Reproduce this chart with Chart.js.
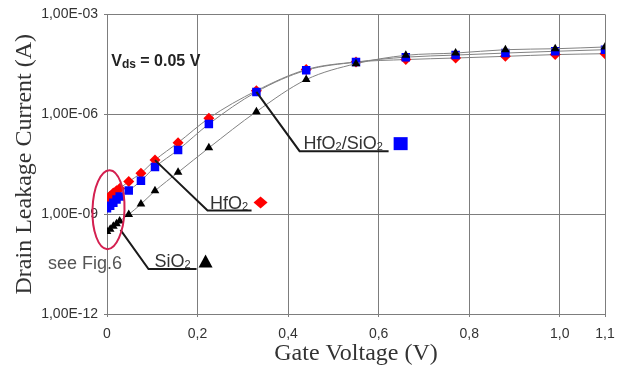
<!DOCTYPE html>
<html>
<head>
<meta charset="utf-8">
<script src="https://cdn.jsdelivr.net/npm/chart.js@4.4.0/dist/chart.umd.min.js"></script>
<style>
  html, body { margin: 0; padding: 0; background: #fff; }
  #wrap { width: 626px; height: 371px; }
</style>
</head>
<body>
<div id="wrap"><canvas id="leakage" width="626" height="371"></canvas></div>
<script>
// gate voltage (V)
var gateVoltage = [0, 0.007, 0.014, 0.021, 0.028, 0.048, 0.075, 0.106, 0.157, 0.225, 0.33, 0.44, 0.55, 0.66, 0.77, 0.88, 0.99, 1.1];

// drain leakage current (A)
var hfo2     = [3.0e-9, 3.5e-9, 4.3e-9, 5.0e-9, 5.9e-9, 9.5e-9, 1.7e-8, 4.2e-8, 1.4e-7, 7.6e-7, 5.1e-6, 2.2e-5, 3.7e-5, 4.4e-5, 4.9e-5, 5.5e-5, 6.2e-5, 6.6e-5];
var hfo2Sio2 = [1.5e-9, 1.8e-9, 2.2e-9, 2.75e-9, 3.4e-9, 5.1e-9, 1.0e-8, 2.6e-8, 8.5e-8, 5.1e-7, 4.7e-6, 2.1e-5, 3.7e-5, 5.2e-5, 6.0e-5, 6.9e-5, 7.8e-5, 8.7e-5];
var sio2     = [3.0e-10, 3.5e-10, 4.3e-10, 5.1e-10, 6.2e-10, 9.8e-10, 2.0e-9, 5.0e-9, 1.8e-8, 9.8e-8, 1.2e-6, 1.1e-5, 3.3e-5, 5.9e-5, 6.9e-5, 8.7e-5, 9.3e-5, 1.05e-4];

var xTicks = [0, 0.2, 0.4, 0.6, 0.8, 1.0, 1.1];
var yTicks = [1e-12, 1e-9, 1e-6, 1e-3];

var gridColor = 'rgb(125,125,125)';
var textColor = '#333';

function points(values) {
    return gateVoltage.map(function (v, i) { return { x: v, y: values[i] }; });
}

function series(label, values, color, style, radius) {
    return {
        label: label,
        data: points(values),
        showLine: true,
        borderColor: 'rgb(130,130,130)',
        borderWidth: 1,
        cubicInterpolationMode: 'monotone',
        pointStyle: style,
        pointRadius: radius,
        pointBackgroundColor: color,
        pointBorderColor: color,
        pointBorderWidth: 0
    };
}

// callouts: leader line from a point, underline, label and a legend marker
var callouts = [
    { parts: [['HfO', 0], ['2', 1], ['/SiO', 0], ['2', 1]],
      from: [gateVoltage[10], hfo2Sio2[10]], elbow: [0.4254, 7.8e-8], end: 0.622,
      text: [0.4343, 9.3e-8], mark: [0.6486, 1.31e-7], shape: 'square' },
    { parts: [['HfO', 0], ['2', 1]],
      from: [gateVoltage[7], hfo2[7]], elbow: [0.2221, 1.29e-9], end: 0.3193,
      text: [0.2276, 1.46e-9], mark: [0.3392, 2.23e-9], shape: 'diamond' },
    { parts: [['SiO', 0], ['2', 1]],
      from: [0.0298, 3.35e-10], elbow: [0.0917, 2.25e-11], end: 0.1978,
      text: [0.105, 2.62e-11], mark: [0.2177, 3.76e-11], shape: 'triangle' }
];

function drawRich(ctx, parts, x, y, size, subSize, weight, color) {
    ctx.fillStyle = color;
    ctx.textAlign = 'left';
    ctx.textBaseline = 'alphabetic';
    parts.forEach(function (p) {
        ctx.font = weight + ' ' + (p[1] ? subSize : size) + 'px "Liberation Sans"';
        ctx.fillText(p[0], x, p[1] ? y + 1.5 : y);
        x += ctx.measureText(p[0]).width;
    });
}

function drawMark(ctx, shape, x, y) {
    ctx.beginPath();
    if (shape === 'square') {
        ctx.fillStyle = '#0000ff';
        ctx.rect(x - 7, y - 6.5, 14, 13);
    } else if (shape === 'diamond') {
        ctx.fillStyle = '#ff0000';
        ctx.moveTo(x, y - 6); ctx.lineTo(x + 7, y); ctx.lineTo(x, y + 6); ctx.lineTo(x - 7, y);
    } else {
        ctx.fillStyle = '#000';
        ctx.moveTo(x, y - 7); ctx.lineTo(x + 7, y + 6); ctx.lineTo(x - 7, y + 6);
    }
    ctx.closePath();
    ctx.fill();
}

var notesPlugin = {
    id: 'notes',
    afterDraw: function (chart) {
        var ctx = chart.ctx;
        var xs = chart.scales.x, ys = chart.scales.y;
        function px(v) { return xs.getPixelForValue(v); }
        function py(v) { return ys.getPixelForValue(v); }
        ctx.save();

        // Vds label
        drawRich(ctx, [['V', 0], ['ds', 1], [' = 0.05 V', 0]], px(0.0093), py(2.8e-5), 16, 12, 'bold', '#222');

        callouts.forEach(function (c) {
            ctx.strokeStyle = '#1a1a1a';
            ctx.lineWidth = 2;
            ctx.beginPath();
            ctx.moveTo(px(c.from[0]), py(c.from[1]));
            ctx.lineTo(px(c.elbow[0]), py(c.elbow[1]));
            ctx.lineTo(px(c.end), py(c.elbow[1]));
            ctx.stroke();
            drawRich(ctx, c.parts, px(c.text[0]), py(c.text[1]), 18, 11, 'normal', textColor);
            drawMark(ctx, c.shape, px(c.mark[0]), py(c.mark[1]));
        });

        // circled region near 0 V
        ctx.strokeStyle = '#d42050';
        ctx.lineWidth = 2;
        ctx.beginPath();
        ctx.ellipse(px(0.0033), py(1.36e-9), 16, 39.5, 0.03, 0, Math.PI * 2);
        ctx.stroke();

        ctx.fillStyle = '#555';
        ctx.font = '18px "Liberation Sans"';
        ctx.textAlign = 'left';
        ctx.fillText('see Fig.6', px(-0.1304), py(2.28e-11));
        ctx.restore();
    }
};

function fixTicks(values) {
    return function (scale) {
        scale.ticks = values.map(function (v) { return { value: v }; });
    };
}

var ctx = document.getElementById('leakage');

var leakageChart = new Chart(ctx, {
    type: 'scatter',
    data: {
        datasets: [
            series('SiO2', sio2, '#000000', 'triangle', 5),
            series('HfO2/SiO2', hfo2Sio2, '#0000ff', 'rect', 6),
            series('HfO2', hfo2, '#ff0000', 'rectRot', 5.5)
        ]
    },
    options: {
        responsive: false,
        devicePixelRatio: 1,
        animation: false,
        layout: { padding: { top: 11, right: 21, bottom: 0, left: 0 } },
        plugins: {
            legend: { display: false },
            tooltip: { enabled: false }
        },
        scales: {
            x: {
                type: 'linear',
                min: 0,
                max: 1.1,
                afterBuildTicks: fixTicks(xTicks),
                afterFit: function (scale) { scale.height = 57; },
                grid: { color: gridColor, lineWidth: 1, tickLength: 3, tickColor: gridColor },
                border: { color: gridColor },
                ticks: {
                    autoSkip: false,
                    maxRotation: 0,
                    padding: 9,
                    color: textColor,
                    font: { family: 'Liberation Sans', size: 14 },
                    callback: function (v) { return v === 0 ? '0' : v.toFixed(1).replace('.', ','); }
                },
                title: {
                    display: true,
                    text: 'Gate Voltage (V)',
                    color: textColor,
                    padding: { top: 0, bottom: 3 },
                    font: { family: 'Liberation Serif', size: 24 }
                }
            },
            y: {
                type: 'logarithmic',
                min: 1e-12,
                max: 1e-3,
                afterBuildTicks: fixTicks(yTicks),
                afterFit: function (scale) { scale.width = 107; },
                grid: { color: gridColor, lineWidth: 1, tickLength: 3, tickColor: gridColor },
                border: { color: gridColor },
                ticks: {
                    padding: 6,
                    color: textColor,
                    font: { family: 'Liberation Sans', size: 14 },
                    callback: function (v) {
                        var e = Math.round(-Math.log10(v));
                        return '1,00E-' + (e < 10 ? '0' + e : e);
                    }
                },
                title: {
                    display: true,
                    text: 'Drain Leakage Current (A)',
                    color: textColor,
                    padding: { top: 10.5, bottom: 0 },
                    font: { family: 'Liberation Serif', size: 24 }
                }
            }
        }
    },
    plugins: [notesPlugin]
});
</script>
</body>
</html>
